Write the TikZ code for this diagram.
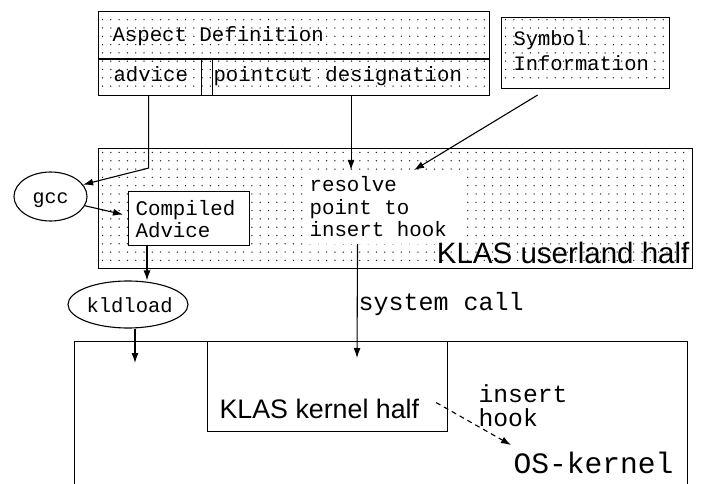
\documentclass[tikz,border=0pt]{standalone}
\usepackage{fontspec}
\setmainfont{Liberation Sans}
\newfontfamily\cour{Liberation Mono}
\usetikzlibrary{arrows.meta,calc,shapes.geometric}
\newcommand\mydots[6]{\foreach \x in {#1,#2,...,#3}{\foreach \y in {#4,#5,...,#6}{\fill[dotc] (\x,\y) circle[radius=0.75pt];}}}
\begin{document}
\begin{tikzpicture}[x=1pt,y=-1pt, line width=1.1pt,
  dotc/.style={black!85},
  dotbox/.style={draw, rectangle, inner sep=0, anchor=north west},
  plainbox/.style={draw, rectangle, inner sep=0, anchor=north west},
  oval/.style={draw, ellipse, inner sep=0},
  lbl/.style={inner sep=0, anchor=base west},
  mono/.style={font=\cour\fontsize{#1}{#1}\selectfont},
  sans/.style={font=\fontsize{#1}{#1}\selectfont},
  arr/.style={-{Latex[length=10pt,width=7pt]}},
]
\useasboundingbox (0,0) rectangle (707,484);
\clip (0,0) rectangle (707,484);

% dotted fills
\mydots{102.5}{110.8}{486}{19.7}{28}{92}
\mydots{505.5}{513.8}{666}{19.7}{28}{85}
\mydots{102.5}{110.8}{689}{152.5}{160.8}{265}

% Aspect definition
\node[dotbox, minimum width=391pt, minimum height=84pt] (asp) at (98,11) {};
\node[plainbox, minimum width=103pt, minimum height=36pt] (adv) at (98,59) {};
\node[plainbox, minimum width=277pt, minimum height=36pt] (pc) at (212,59) {};
\draw (asp.west |- adv.north) -- (asp.east |- adv.north);
\node[lbl, mono=20.7] (taspect) at (112,42) {Aspect Definition};
\node[lbl, mono=20.7] (tadv) at (113,82) {advice};
\node[lbl, mono=20.7] (tpc) at (213,82) {pointcut designation};

% Symbol information
\node[dotbox, minimum width=168pt, minimum height=71pt] (sym) at (501,17) {};
\node[lbl, mono=20.5] (tsym1) at (513,46) {Symbol};
\node[lbl, mono=20.5] (tsym2) at (513,71) {Information};

% Userland half
\node[dotbox, minimum width=594pt, minimum height=120pt] (user) at (98,148) {};
\node[inner sep=0, fill=white, minimum width=155pt, minimum height=73pt, anchor=north west] (res) at (305,170) {};
\node[lbl, mono=20.8] (tres1) at (309,192) {resolve};
\node[lbl, mono=20.8] (tres2) at (309,214) {point to};
\node[lbl, mono=20.8] (tres3) at (309,236) {insert hook};
\node[plainbox, fill=white, minimum width=121pt, minimum height=54pt] (comp) at (128,191) {};
\node[lbl, mono=20.8] (tcomp1) at (135,215) {Compiled};
\node[lbl, mono=20.8] (tcomp2) at (135,237) {Advice};
\node[inner sep=0, anchor=base east, sans=29.5] (tuser) at (690,263) {KLAS userland half};

% gcc and kldload
\node[oval, minimum width=73pt, minimum height=49pt] (gcc) at (50.5,196.5) {};
\node[lbl, mono=20] (tgcc) at (32,204) {gcc};
\node[oval, minimum width=120pt, minimum height=47pt] (kld) at (128,304.5) {};
\node[lbl, mono=20.5] (tkld) at (86,312) {kldload};

% system call
\node[lbl, mono=25] (tsys) at (358,310) {system call};

% Kernel
\node[plainbox, minimum width=613pt, minimum height=170pt] (kern) at (74,341) {};
\node[plainbox, minimum width=240pt, minimum height=90pt] (khalf) at (207,341) {};
\node[lbl, sans=26.8] (tkhalf) at (219,418) {KLAS kernel half};
\node[lbl, mono=24.7] (tins1) at (478,402) {insert};
\node[lbl, mono=24.7] (tins2) at (478,426) {hook};
\node[lbl, mono=29.6] (tos) at (513,473) {OS-kernel};

\coordinate (kldin) at (135,363);
\coordinate (scin) at (357,358);

% connectors
\draw[arr] ([xshift=-1.5pt]adv.south) -- ++(0,72) -- (gcc.20);
\draw[arr] (gcc.-15) -- ([xshift=-5pt,yshift=4pt]comp.west);
\draw[arr] ([xshift=19pt]comp.south west) -- ([xshift=19pt]comp.south west |- kld.north);
\draw[arr] ([xshift=7pt]kld.south) -- (kldin);
\draw[arr] (pc.south) -- (pc.south |- res.north);
\draw[arr] ([xshift=-48pt,yshift=-6pt]sym.south) -- ([xshift=-47pt]res.north east);
\draw[arr] ([xshift=-25.5pt]res.south) -- (scin);
\draw[arr, dash pattern=on 5pt off 4pt] ([xshift=-12pt,yshift=-16pt]khalf.east) -- ([xshift=-2pt,yshift=6pt]tos.north west);
\end{tikzpicture}
\end{document}
